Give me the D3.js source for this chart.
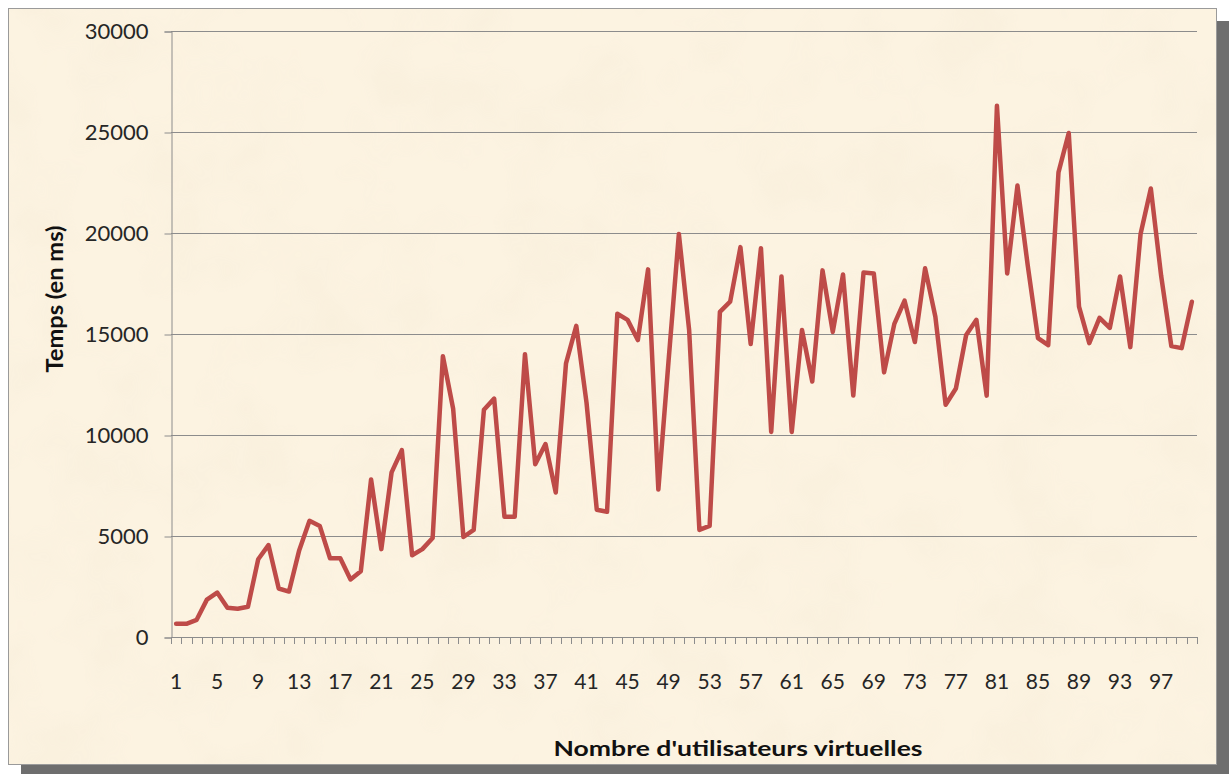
<!DOCTYPE html>
<html>
<head>
<meta charset="utf-8">
<script src="https://cdn.jsdelivr.net/npm/d3@7"></script>
<style>
  html, body { margin: 0; padding: 0; background: #ffffff; }
  svg { display: block; }
</style>
</head>
<body>
<script>
// Temps de réponse par nombre d'utilisateurs virtuels

var categories = d3.range(1, 101);

var temps = [
  650, 650, 850, 1850, 2200, 1450, 1400, 1500, 3850, 4550,
  2400, 2250, 4300, 5750, 5500, 3900, 3900, 2850, 3250, 7800,
  4350, 8150, 9250, 4050, 4350, 4900, 13900, 11300, 4950, 5300,
  11250, 11800, 5950, 5950, 14000, 8550, 9550, 7150, 13550, 15400,
  11600, 6300, 6200, 16000, 15700, 14700, 18200, 7300, 13700, 19950,
  15200, 5300, 5500, 16100, 16600, 19300, 14500, 19250, 10150, 17850,
  10150, 15200, 12650, 18150, 15100, 17950, 11950, 18050, 18000, 13100,
  15500, 16650, 14600, 18250, 15850, 11500, 12300, 14950, 15700, 11950,
  26300, 18000, 22350, 18400, 14800, 14450, 23000, 24950, 16350, 14550,
  15800, 15300, 17850, 14350, 19950, 22200, 17900, 14400, 14300, 16600
];

var xTickLabels = [1, 5, 9, 13, 17, 21, 25, 29, 33, 37, 41, 45, 49, 53, 57, 61, 65, 69, 73, 77, 81, 85, 89, 93, 97];
var yTicks = [0, 5000, 10000, 15000, 20000, 25000, 30000];

var W = 1229, H = 774;
var plot = { left: 171, right: 1197, top: 31, bottom: 637 };
var font = 'Lato, "Open Sans", sans-serif';

var svg = d3.select('body')
  .append('svg')
  .attr('width', W)
  .attr('height', H);

var defs = svg.append('defs');

// parchment texture
var filt = defs.append('filter')
  .attr('id', 'paper')
  .attr('x', 0).attr('y', 0).attr('width', 1).attr('height', 1);
filt.append('feTurbulence')
  .attr('type', 'fractalNoise')
  .attr('baseFrequency', 0.014)
  .attr('numOctaves', 3)
  .attr('seed', 7)
  .attr('result', 'noise');
filt.append('feColorMatrix')
  .attr('in', 'noise')
  .attr('type', 'matrix')
  .attr('values', '0 0 0 0 0.93  0 0 0 0 0.85  0 0 0 0 0.70  0 0 0 2.2 -0.95')
  .attr('result', 'spots');
filt.append('feComposite')
  .attr('in', 'spots')
  .attr('in2', 'SourceGraphic')
  .attr('operator', 'in');

// drop shadow
svg.append('rect')
  .attr('x', 21).attr('y', 21)
  .attr('width', W - 21).attr('height', H - 21)
  .attr('fill', '#6e6e6e');

// frame
svg.append('rect')
  .attr('x', 8.5).attr('y', 8.5)
  .attr('width', 1208).attr('height', 756)
  .attr('fill', '#fcf3e1')
  .attr('stroke', '#9a9a9a');

svg.append('rect')
  .attr('x', 9).attr('y', 9)
  .attr('width', 1207).attr('height', 755)
  .attr('fill', '#fff')
  .attr('opacity', 0.55)
  .attr('filter', 'url(#paper)');

var x = d3.scaleBand()
  .domain(categories)
  .range([plot.left, plot.right])
  .padding(0);

var y = d3.scaleLinear()
  .domain([0, 30000])
  .range([plot.bottom, plot.top]);

// horizontal gridlines
svg.append('g')
  .selectAll('line')
  .data(yTicks.filter(function (d) { return d > 0; }))
  .enter()
  .append('line')
  .attr('x1', plot.left)
  .attr('x2', plot.right)
  .attr('y1', function (d) { return Math.round(y(d)) + 0.5; })
  .attr('y2', function (d) { return Math.round(y(d)) + 0.5; })
  .attr('stroke', '#8c8c8c')
  .attr('stroke-width', 1);

// y axis
var yAxis = svg.append('g')
  .attr('transform', 'translate(' + (plot.left + 0.5) + ',0.5)')
  .call(d3.axisLeft(y).tickValues(yTicks).tickSize(7).tickPadding(16).tickFormat(d3.format('d')));

yAxis.select('.domain').attr('stroke', '#8c8c8c');
yAxis.selectAll('.tick line').attr('stroke', '#8c8c8c');
yAxis.selectAll('.tick text')
  .attr('fill', '#262626')
  .style('font-family', font)
  .style('font-size', '22px');

// x axis: ticks between categories (Excel category axis)
var xg = svg.append('g');
var boundaries = categories.map(function (c) { return x(c); }).concat([x(categories[categories.length - 1]) + x.bandwidth()]);

xg.append('line')
  .attr('x1', plot.left).attr('x2', plot.right)
  .attr('y1', plot.bottom + 0.5).attr('y2', plot.bottom + 0.5)
  .attr('stroke', '#8c8c8c');

xg.selectAll('.tk')
  .data(boundaries)
  .enter()
  .append('line')
  .attr('class', 'tk')
  .attr('x1', function (d) { return Math.round(d) + 0.5; })
  .attr('x2', function (d) { return Math.round(d) + 0.5; })
  .attr('y1', plot.bottom)
  .attr('y2', plot.bottom + 7)
  .attr('stroke', '#8c8c8c');

xg.selectAll('.lbl')
  .data(xTickLabels)
  .enter()
  .append('text')
  .attr('class', 'lbl')
  .attr('x', function (d) { return x(d) + x.bandwidth() / 2; })
  .attr('y', 689)
  .attr('text-anchor', 'middle')
  .attr('fill', '#262626')
  .style('font-family', font)
  .style('font-size', '21px')
  .text(function (d) { return d; });

// line
var line = d3.line()
  .x(function (d, i) { return x(categories[i]) + x.bandwidth() / 2; })
  .y(function (d) { return y(d); });

svg.append('path')
  .datum(temps)
  .attr('d', line)
  .attr('fill', 'none')
  .attr('stroke', '#be4b48')
  .attr('stroke-width', 4.5)
  .attr('stroke-linejoin', 'round')
  .attr('stroke-linecap', 'round');

// axis titles
svg.append('text')
  .attr('transform', 'translate(63,299) rotate(-90)')
  .attr('text-anchor', 'middle')
  .attr('fill', '#111')
  .attr('textLength', 147)
  .attr('lengthAdjust', 'spacingAndGlyphs')
  .style('font-family', font)
  .style('font-weight', 'bold')
  .style('font-size', '23px')
  .text('Temps (en ms)');

svg.append('text')
  .attr('x', 738)
  .attr('y', 756)
  .attr('text-anchor', 'middle')
  .attr('fill', '#111')
  .attr('textLength', 369)
  .attr('lengthAdjust', 'spacingAndGlyphs')
  .style('font-family', font)
  .style('font-weight', 'bold')
  .style('font-size', '21px')
  .text("Nombre d'utilisateurs virtuelles");
</script>
</body>
</html>
